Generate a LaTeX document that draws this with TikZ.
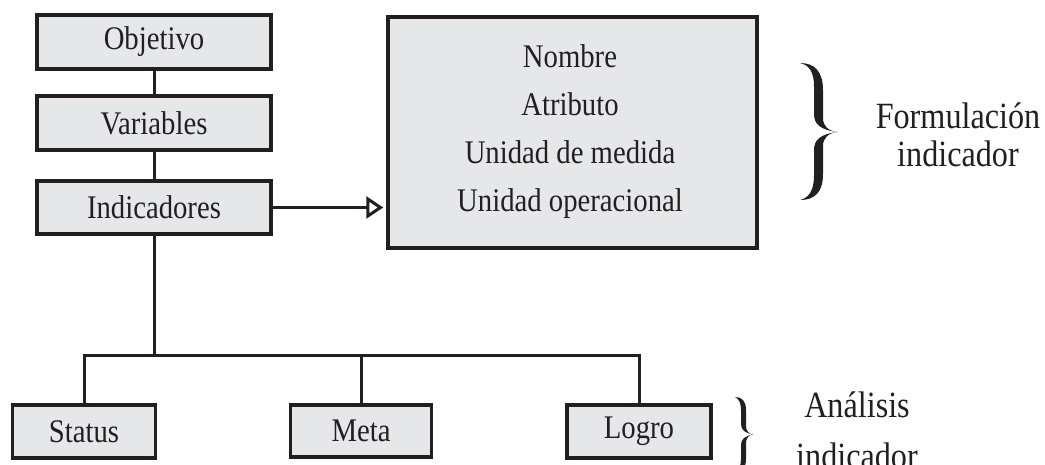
\documentclass[tikz,border=0pt]{standalone}
\usepackage{fontspec}
\setmainfont[FakeStretch=0.87]{Liberation Serif}
\usetikzlibrary{arrows.meta}
\definecolor{boxfill}{HTML}{E6E7E8}
\definecolor{ink}{HTML}{231F20}
\tikzset{
  stepbox/.style={draw=ink, fill=boxfill, line width=3.5pt, inner sep=0pt,
    minimum height=54pt, font=\fontsize{33}{38}\selectfont, text=ink},
  conn/.style={draw=ink, line width=3pt},
  boxtext/.style={anchor=base, inner sep=0pt, font=\fontsize{33}{38}\selectfont, text=ink},
  sidetext/.style={anchor=base, inner sep=0pt, font=\fontsize{37}{42}\selectfont, text=ink},
}
\begin{document}
\begin{tikzpicture}[x=1pt, y=-1pt]
\useasboundingbox (0,0) rectangle (1045,464);
% top column
\node[stepbox, minimum width=234pt] (obj) at (154,42) {Objetivo};
\node[stepbox, minimum width=234pt] (var) at (154,123) {Variables};
\node[stepbox, minimum width=234pt, minimum height=53pt] (ind) at (154,207.5) {Indicadores};
% big box
\node[draw=ink, fill=boxfill, line width=3.5pt, minimum width=369pt, minimum height=231pt, inner sep=0pt] (big) at (572.5,132.5) {};
\node[boxtext] (t1) at (570,67) {Nombre};
\node[boxtext] (t2) at (570,115) {Atributo};
\node[boxtext] (t3) at (570,163) {Unidad de medida};
\node[boxtext] (t4) at (570,211) {Unidad operacional};
% bottom boxes
\node[stepbox, minimum width=143pt, minimum height=53pt] (status) at (84,431.5) {Status};
\node[stepbox, minimum width=141pt, minimum height=52pt] (meta) at (361,431) {Meta};
\node[stepbox, minimum width=144pt, minimum height=53pt] (logro) at (639,431.5) {Logro};
% connectors
\draw[conn] (obj) -- (var);
\draw[conn] (var) -- (ind);
\draw[conn, shorten >=3pt, -{Triangle[open, length=17pt, width=22pt]}] (ind.east) -- (big.west |- ind.east);
\coordinate (bus) at (154,355);
\draw[conn] (ind.south) -- (bus);
\draw[conn] (status.north) |- (bus) -| (logro.north);
\draw[conn] (meta.north) -- (meta.north |- bus);
% braces
\fill[ink] (800,63) .. controls (815,63) and (823,72) .. (823,90) -- (823,118)
  .. controls (823,126) and (828,131) .. (838,132)
  .. controls (828,133) and (823,138) .. (823,146) -- (823,174)
  .. controls (823,192) and (815,200) .. (800,200)
  .. controls (809,198) and (814,190) .. (814,176) -- (814,150)
  .. controls (814,140) and (820,134) .. (838,132)
  .. controls (820,130) and (814,124) .. (814,114) -- (814,86)
  .. controls (814,72) and (809,65) .. (800,63) -- cycle;
\fill[ink] (735,397) .. controls (742,397) and (746,401) .. (746,410) -- (746,426)
  .. controls (746,431) and (749,434) .. (753,434.5)
  .. controls (749,435) and (746,438) .. (746,443) -- (746,459)
  .. controls (746,468) and (742,472) .. (735,472)
  .. controls (739,470) and (741,466) .. (741,459) -- (741,445)
  .. controls (741,439) and (745,436) .. (753,434.5)
  .. controls (745,433) and (741,430) .. (741,424) -- (741,410)
  .. controls (741,403) and (739,399) .. (735,397) -- cycle;
% side labels
\node[sidetext] (f1) at (958,128) {Formulación};
\node[sidetext] (f2) at (958,166) {indicador};
\node[sidetext] (a1) at (857,417) {Análisis};
\node[sidetext] (a2) at (857,468) {indicador};
\end{tikzpicture}
\end{document}
